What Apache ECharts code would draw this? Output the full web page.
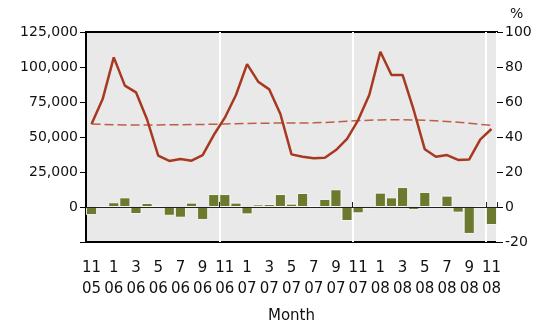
<!DOCTYPE html>
<html>
<head>
<meta charset="utf-8">
<script src="https://cdn.jsdelivr.net/npm/echarts@6/dist/echarts.min.js"></script>
<style>
  html, body { margin: 0; padding: 0; background: #fff; }
  #chart { width: 549px; height: 329px; }
</style>
</head>
<body>
<div id="chart"></div>
<script>
// months, Nov 2005 .. Nov 2008
const months = [
  '11\n05', '12\n05',
  '1\n06', '2\n06', '3\n06', '4\n06', '5\n06', '6\n06', '7\n06', '8\n06', '9\n06', '10\n06', '11\n06', '12\n06',
  '1\n07', '2\n07', '3\n07', '4\n07', '5\n07', '6\n07', '7\n07', '8\n07', '9\n07', '10\n07', '11\n07', '12\n07',
  '1\n08', '2\n08', '3\n08', '4\n08', '5\n08', '6\n08', '7\n08', '8\n08', '9\n08', '10\n08', '11\n08'
]

// monthly count (left axis)
const monthly = [
  59300, 77100, 106900, 86700, 81900, 62500, 36700, 32900, 34300, 33100, 37100, 51400,
  63800, 80000, 102100, 89500, 84000, 66400, 37600, 35900, 34800, 35200, 40700, 48600,
  62100, 80000, 110900, 94300, 94300, 69300, 41200, 35900, 37100, 33600, 34000, 48300, 55700
]

// trend (left axis, dashed)
const trend = [
  59300, 59000, 58700, 58600, 58500, 58500, 58600, 58700, 58800, 58900, 59000, 59100,
  59300, 59500, 59700, 59800, 59900, 60000, 60000, 60000, 60100, 60400, 60800, 61300,
  61700, 62000, 62200, 62300, 62300, 62200, 62000, 61600, 61100, 60500, 59800, 59000, 58300
]

// year-on-year change, % (right axis)
const change = [
  -4.6, 0, 2.7, 5.5, -4.0, 2.3, 1.1, -5.0, -6.1, 2.5, -7.4, 7.4,
  7.4, 2.5, -4.2, 1.5, 1.7, 7.4, 1.9, 8.0, 0.6, 4.6, 10.1, -8.0,
  -3.6, -0.8, 8.2, 5.5, 11.4, -1.7, 8.6, 0, 6.5, -3.2, -15.4, 0, -10.3
]

const FONT = 'DejaVu Sans'
const yearStart = (i) => i > 0 && i % 12 === 0

const chart = echarts.init(document.getElementById('chart'))

chart.setOption({
  animation: false,
  textStyle: { fontFamily: FONT, color: '#111' },
  grid: {
    left: 86, right: 52, top: 32, bottom: 87,
    show: true, backgroundColor: '#e9e9e9', borderColor: '#000', borderWidth: 2
  },
  xAxis: [
    {
      type: 'category',
      data: months,
      position: 'bottom',
      axisLine: { show: false, onZero: false },
      axisTick: { show: false },
      axisLabel: { interval: 1, fontSize: 15, lineHeight: 21, margin: 16, color: '#111' },
      splitLine: { show: true, interval: yearStart, lineStyle: { color: '#fff', width: 2 } },
      name: 'Month',
      nameLocation: 'middle',
      nameGap: 67,
      nameTextStyle: { fontSize: 15, color: '#111' }
    },
    {
      type: 'category',
      data: months,
      position: 'top',
      z: 10,
      axisLine: { show: true, onZero: true, onZeroAxisIndex: 0, lineStyle: { color: '#222', width: 1 } },
      axisTick: { show: true, interval: yearStart, length: 5, lineStyle: { color: '#222' } },
      axisLabel: { show: false },
      splitLine: { show: false }
    }
  ],
  yAxis: [
    {
      type: 'value',
      min: -25000, max: 125000, interval: 25000,
      axisLine: { show: false },
      axisTick: { show: true, length: 6, lineStyle: { color: '#000' } },
      axisLabel: {
        fontSize: 14, margin: 8, color: '#111',
        formatter: (v) => v < 0 ? '' : v.toLocaleString('en-US')
      },
      splitLine: { show: false }
    },
    {
      type: 'value',
      min: -20, max: 100, interval: 20,
      position: 'right',
      name: '%',
      nameGap: 11,
      nameTextStyle: { fontSize: 14, align: 'left', padding: [0, 0, 0, 13], color: '#111' },
      axisLine: { show: false },
      axisTick: { show: true, length: 6, lineStyle: { color: '#000' } },
      axisLabel: { fontSize: 14, margin: 8, color: '#111' },
      splitLine: { show: false }
    }
  ],
  series: [
    {
      name: 'Change',
      type: 'bar',
      xAxisIndex: 0,
      yAxisIndex: 1,
      data: change,
      barCategoryGap: '0%',
      itemStyle: { color: '#6b7a2e', borderColor: 'rgba(255,255,255,0.85)', borderWidth: 1 }
    },
    {
      name: 'Trend',
      type: 'line',
      xAxisIndex: 0,
      yAxisIndex: 0,
      data: trend,
      symbol: 'none',
      lineStyle: { color: '#b5452d', width: 1.5, type: [9, 4], opacity: 0.85 }
    },
    {
      name: 'Monthly',
      type: 'line',
      xAxisIndex: 0,
      yAxisIndex: 0,
      data: monthly,
      symbol: 'none',
      lineStyle: { color: '#a6391f', width: 2.5 }
    }
  ]
})
</script>
</body>
</html>
